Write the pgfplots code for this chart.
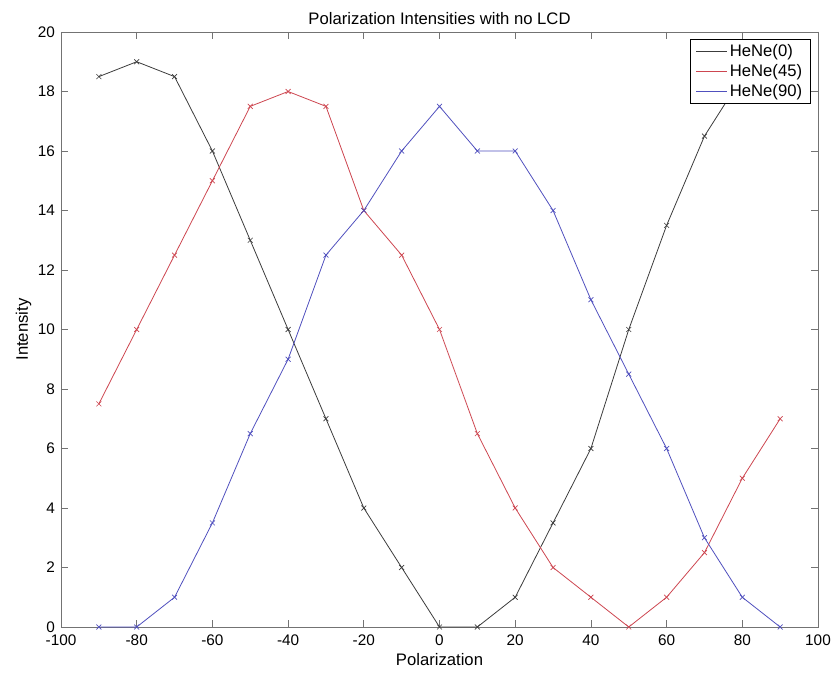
\documentclass[border=0pt]{standalone}
\usepackage{pgfplots}
\pgfplotsset{compat=1.18}
\usepackage{fontspec}
\setmainfont{Liberation Sans}
\usetikzlibrary{calc}
\definecolor{cblack}{RGB}{60,60,60}
\definecolor{cred}{RGB}{205,70,80}
\definecolor{cblue}{RGB}{80,80,190}
\begin{document}
\begin{tikzpicture}[x=1pt,y=1pt]
\begin{axis}[
  name=ax,
  scale only axis,
  width=567.75pt, height=446.25pt,
  xmin=-100, xmax=100, ymin=0, ymax=20,
  xtick={-100,-80,...,100},
  ytick={0,2,...,20},
  tick align=inside,
  major tick length=5pt,
  axis line style={draw=black!55, line width=0.6pt},
  tick style={draw=black!55, line width=0.6pt},
  ticklabel style={font=\fontsize{11.5}{13}\selectfont},
  /pgf/number format/assume math mode=true,
  xticklabel style={yshift=-2.5pt},
  yticklabel style={xshift=-1pt},
  title={Polarization Intensities with no LCD},
  title style={font=\fontsize{12.5}{14}\selectfont, yshift=-4pt},
  xlabel={Polarization},
  ylabel={Intensity},
  label style={font=\fontsize{12.5}{14}\selectfont},
  xlabel style={yshift=1pt},
  ylabel style={yshift=-2pt},
  legend style={at={(0.99,0.988)}, anchor=north east, line width=0.5pt,
    font=\fontsize{12.5}{14}\selectfont, inner xsep=4pt, inner ysep=1.5pt, row sep=0.5pt,
    legend cell align=left},
  legend image code/.code={\draw[mark=none] (0pt,0pt) -- (23pt,0pt);},
  every axis plot/.append style={line width=0.6pt, mark=x, mark size=2.6pt, mark options={line width=0.5pt}},
]
\addplot[color=cblack] coordinates {(-90,18.5)(-80,19)(-70,18.5)(-60,16)(-50,13)(-40,10)(-30,7)(-20,4)(-10,2)(0,0)(10,0)(20,1)(30,3.5)(40,6)(50,10)(60,13.5)(70,16.5)(80,18.5)(90,19)};
\addlegendentry{HeNe(0)}
\addplot[color=cred] coordinates {(-90,7.5)(-80,10)(-70,12.5)(-60,15)(-50,17.5)(-40,18)(-30,17.5)(-20,14)(-10,12.5)(0,10)(10,6.5)(20,4)(30,2)(40,1)(50,0)(60,1)(70,2.5)(80,5)(90,7)};
\addlegendentry{HeNe(45)}
\addplot[color=cblue] coordinates {(-90,0)(-80,0)(-70,1)(-60,3.5)(-50,6.5)(-40,9)(-30,12.5)(-20,14)(-10,16)(0,17.5)(10,16)(20,16)(30,14)(40,11)(50,8.5)(60,6)(70,3)(80,1)(90,0)};
\addlegendentry{HeNe(90)}
\end{axis}
\pgfresetboundingbox
\path ($(ax.south west)+(-45.75pt,-39pt)$) rectangle ($(ax.north east)+(15pt,24pt)$);
\end{tikzpicture}
\end{document}
